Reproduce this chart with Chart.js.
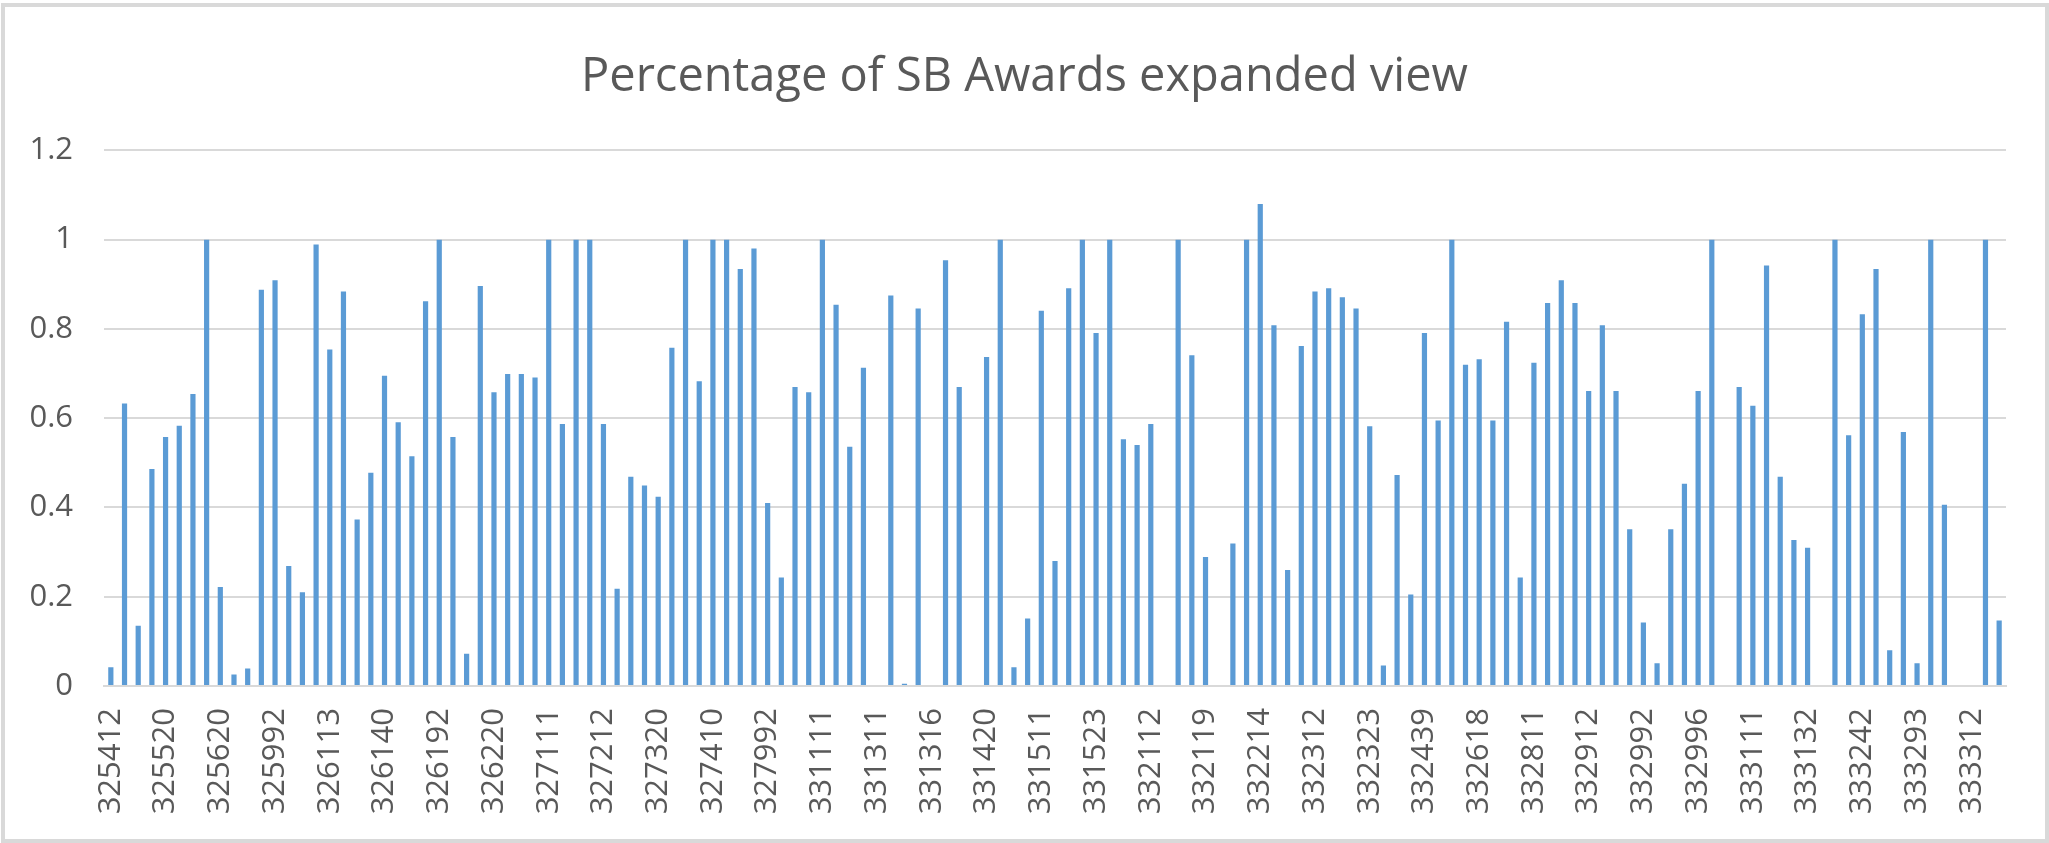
<!DOCTYPE html>
<html>
<head>
<meta charset="utf-8">
<script src="https://cdn.jsdelivr.net/npm/chart.js@4.4.1/dist/chart.umd.min.js"></script>
<style>
  html, body { margin: 0; padding: 0; background: #ffffff; }
  #wrap { position: relative; width: 2049px; height: 843px; }
</style>
</head>
<body>
<div id="wrap"><canvas id="c" width="2049" height="843"></canvas></div>
<script>
const chartTitle = "Percentage of SB Awards expanded view";

const categories = [
  "325412","325413","325414","325510","325520","325611","325612","325613",
  "325620","325910","325920","325991","325992","325998","326111","326112",
  "326113","326121","326122","326130","326140","326150","326160","326191",
  "326192","326199","326211","326212","326220","326291","326299","327110",
  "327111","327112","327113","327121","327212","327213","327215","327310",
  "327320","327331","327332","327390","327410","327420","327910","327991",
  "327992","327993","327999","331110","331111","331112","331210","331221",
  "331311","331312","331314","331315","331316","331318","331410","331419",
  "331420","331421","331491","331492","331511","331512","331513","331522",
  "331523","331524","331529","332111","332112","332114","332115","332117",
  "332119","332211","332212","332213","332214","332215","332216","332311",
  "332312","332313","332321","332322","332323","332410","332420","332431",
  "332439","332510","332611","332613","332618","332710","332721","332722",
  "332811","332812","332813","332911","332912","332913","332919","332991",
  "332992","332993","332994","332995","332996","332997","332998","332999",
  "333111","333112","333120","333131","333132","333210","333220","333241",
  "333242","333243","333244","333249","333293","333294","333295","333298",
  "333312","333313","333314"
];

const sbPercent = [
  0.042,0.633,0.135,0.486,0.558,0.583,0.654,1.0,
  0.222,0.026,0.039,0.888,0.909,0.269,0.210,0.989,
  0.754,0.884,0.373,0.478,0.695,0.591,0.515,0.862,
  1.0,0.558,0.072,0.896,0.658,0.699,0.699,0.691,
  1.0,0.587,1.0,1.0,0.587,0.218,0.469,0.449,
  0.424,0.758,1.0,0.683,1.0,1.0,0.934,0.980,
  0.410,0.243,0.670,0.658,1.0,0.854,0.536,0.713,
  0,0.875,0.005,0.846,0,0.954,0.670,0,
  0.737,1.0,0.042,0.151,0.841,0.280,0.891,1.0,
  0.791,1.0,0.553,0.540,0.587,0,1.0,0.741,
  0.289,0,0.319,1.0,1.080,0.808,0.260,0.762,
  0.884,0.891,0.871,0.846,0.582,0.046,0.473,0.205,
  0.791,0.595,1.0,0.720,0.732,0.595,0.816,0.243,
  0.724,0.858,0.909,0.858,0.661,0.808,0.661,0.351,
  0.142,0.051,0.351,0.453,0.661,1.0,0,0.670,
  0.628,0.942,0.469,0.327,0.310,0,1.0,0.562,
  0.833,0.934,0.080,0.569,0.051,1.0,0.406,0,
  0,1.0,0.147
];

const yTickValues = [0, 0.2, 0.4, 0.6, 0.8, 1, 1.2];
const labelEvery = 4;

const borderPlugin = {
  id: 'outerBorder',
  beforeDraw(chart) {
    const ctx = chart.ctx;
    ctx.save();
    ctx.fillStyle = '#ffffff';
    ctx.fillRect(0, 0, chart.width, chart.height);
    ctx.fillStyle = '#d9d9d9';
    ctx.fillRect(1, 3, 2048, 4);
    ctx.fillRect(1, 3, 4, 840);
    ctx.fillRect(1, 839, 2048, 4);
    ctx.fillRect(2045, 3, 4, 840);
    ctx.restore();
  }
};

new Chart(document.getElementById('c'), {
  type: 'bar',
  data: {
    labels: categories,
    datasets: [{
      label: 'Percentage of SB Awards',
      data: sbPercent,
      backgroundColor: '#5b9bd5',
      borderWidth: 0,
      barPercentage: 0.38,
      categoryPercentage: 1.0
    }]
  },
  options: {
    responsive: false,
    animation: false,
    devicePixelRatio: 1,
    layout: { padding: 0 },
    plugins: {
      legend: { display: false },
      tooltip: { enabled: false },
      title: {
        display: true,
        text: chartTitle,
        color: '#595959',
        font: { family: 'Open Sans', size: 47, weight: 'normal' },
        padding: { top: 49, bottom: 45 }
      }
    },
    scales: {
      x: {
        grid: { display: false, drawTicks: false },
        border: { display: true, color: '#d9d9d9', width: 2 },
        ticks: {
          autoSkip: false,
          minRotation: 90,
          maxRotation: 90,
          padding: 22,
          color: '#595959',
          font: { family: 'Open Sans', size: 31 },
          callback: function(value, index) {
            return index % labelEvery === 0 ? categories[index] : '';
          }
        },
        afterFit: function(scale) {
          scale.height = 157;
          scale.paddingLeft = 0;
          scale.paddingRight = 0;
        }
      },
      y: {
        min: 0,
        max: 1.2,
        afterBuildTicks: function(scale) {
          scale.ticks = yTickValues.map(v => ({ value: v }));
        },
        grid: { color: '#d9d9d9', lineWidth: 2, drawTicks: false },
        border: { display: false },
        ticks: {
          padding: 31,
          color: '#595959',
          font: { family: 'Open Sans', size: 31 },
          callback: function(v) { return String(Number(v.toFixed(1))); }
        },
        afterFit: function(scale) { scale.width = 104; }
      },
      yRight: {
        position: 'right',
        display: true,
        min: 0,
        max: 1.2,
        grid: { display: false, drawTicks: false },
        border: { display: false },
        ticks: { display: false },
        afterFit: function(scale) { scale.width = 43; }
      }
    }
  },
  plugins: [borderPlugin]
});
</script>
</body>
</html>
